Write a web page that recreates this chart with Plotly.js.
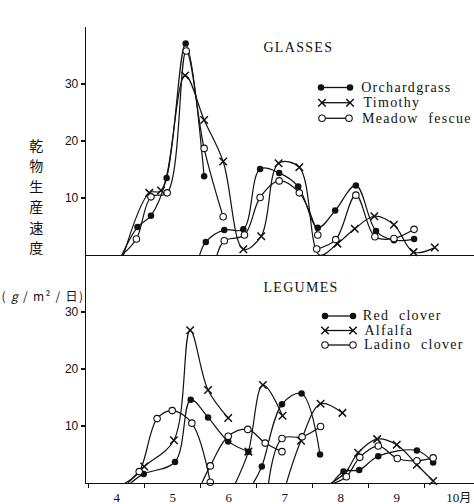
<!DOCTYPE html>
<html>
<head>
<meta charset="utf-8">
<script src="https://cdn.plot.ly/plotly-3.0.1.min.js"></script>
<style>
  html, body { margin: 0; padding: 0; background: #fff; }
  #chart .annotation-text { letter-spacing: 1.3px; }
</style>
</head>
<body>
<div id="chart" style="width:474px;height:504px"></div>
<script>
// Month axis: 4 = April ... 10 = October
const monthTicks = [4, 5, 6, 7, 8, 9, 10];
const monthLabels = ['4', '5', '6', '7', '8', '9', '10'];
const rateTicks = [10, 20, 30];

// Dry matter production rate (g/m²/day). Each regrowth cycle starts from 0; null separates cycles.
// --- GLASSES ---
const orchardgrassX = [4.09, 4.37, 4.61, 4.89, 5.23, 5.56, null, 5.48, 5.59, 5.92, 6.26, 6.56, 6.90, 7.24, 7.59, 7.90, 8.27, 8.63, 8.95, 9.31];
const orchardgrassY = [0, 4.9, 6.9, 13.5, 37.1, 13.8, null, 0, 2.3, 4.4, 4.5, 15.1, 14.4, 12.0, 4.8, 7.8, 12.2, 4.2, 2.6, 2.8];

const timothyX = [4.12, 4.58, 4.79, 5.22, 5.56, 5.90, 6.26, 6.58, 6.89, 7.26, 7.62, 7.94, 8.25, 8.60, 8.95, 9.30, 9.68];
const timothyY = [0, 10.9, 11.3, 31.5, 23.7, 16.4, 1.0, 3.3, 16.1, 15.4, 0, 2.0, 4.6, 6.8, 5.3, 0.5, 1.3];

const meadowFescueX = [4.09, 4.35, 4.61, 4.90, 5.24, 5.56, 5.90, null, 5.79, 5.92, 6.28, 6.56, 6.90, 7.26, 7.59, null, 7.57, 7.91, 8.27, 8.61, 8.95, 9.31];
const meadowFescueY = [0, 2.8, 10.2, 10.9, 35.8, 18.7, 6.7, null, 0, 2.5, 3.5, 10.1, 13.0, 10.9, 3.5, null, 1.05, 2.7, 10.5, 3.2, 2.9, 4.5];

// --- LEGUMES ---
const redCloverX = [4.25, 4.48, 5.04, 5.32, 5.63, 5.99, 6.35, null, 6.44, 6.59, 6.95, 7.30, 7.63, null, 7.85, 8.05, 8.33, 8.67, 9.36, 9.65];
const redCloverY = [0, 1.6, 3.7, 14.6, 11.5, 7.3, 5.5, null, 0, 2.9, 13.8, 15.7, 5.0, null, 0, 2.0, 2.3, 4.7, 5.7, 3.6];

const alfalfaX = [4.2, 4.49, 5.02, 5.31, 5.63, 5.99, null, 6.12, 6.35, 6.61, 6.96, null, 7.03, 7.29, 7.64, 8.03, null, 7.83, 8.08, 8.31, 8.65, 9.00, 9.36, 9.65];
const alfalfaY = [0, 2.9, 7.5, 26.8, 16.3, 11.4, null, 0, 5.5, 17.2, 11.8, null, 0, 7.4, 13.9, 12.3, null, 0, 1.8, 5.3, 7.7, 6.7, 3.2, 0.35];

const ladinoCloverX = [4.15, 4.40, 4.72, 4.99, 5.34, 5.67, null, 5.52, 5.67, 5.99, 6.34, 6.65, 6.95, null, 6.71, 6.95, 7.31, 7.64, null, 7.88, 8.10, 8.34, 8.67, 9.01, 9.36, 9.65];
const ladinoCloverY = [0, 2.0, 11.3, 12.7, 10.5, 0.12, null, 0, 3.0, 8.2, 9.4, 7.0, 5.5, null, 0, 7.8, 8.1, 9.9, null, 0, 1.1, 4.5, 6.5, 4.3, 3.9, 4.4];

// ---------------------------------------------------------------------------
const INK = '#111';
const TRACKING = 1.3; // letter-spacing (px) applied to annotation text via CSS
const STYLES = {
  dot:  { symbol: 'circle', size: 6.5, color: INK, line: { color: INK, width: 0 } },
  open: { symbol: 'circle', size: 6.5, color: '#fff', line: { color: INK, width: 1.1 } },
  cross:{ symbol: 'x-thin', size: 7.5, color: INK, line: { color: INK, width: 1.5 } }
};

// Regrowth starts (value exactly 0) are drawn without a marker.
function series(x, y, style, xa, ya) {
  const st = STYLES[style];
  return {
    x: x, y: y, xaxis: xa, yaxis: ya,
    type: 'scatter', mode: 'lines+markers',
    connectgaps: false, cliponaxis: false, hoverinfo: 'skip',
    line: { color: INK, width: 1.2, shape: 'spline', smoothing: 1 },
    marker: {
      symbol: st.symbol, size: st.size, color: st.color, line: st.line,
      opacity: y.map(v => (v === 0 ? 0 : 1))
    }
  };
}

// Plot area in pixels (used for annotation / key placement)
const L = 86, T = 27, W = 388, H = 456;
const fx = px => (px - L) / W;
const fy = py => 1 - (py - T) / H;

function keySample(x0, x1, yRow, style) {
  const st = STYLES[style];
  return {
    x: [fx(x0), fx(x1)], y: [fy(yRow), fy(yRow)], xaxis: 'x3', yaxis: 'y3',
    type: 'scatter', mode: 'lines+markers', hoverinfo: 'skip', cliponaxis: false,
    line: { color: INK, width: 1.3 },
    marker: { symbol: st.symbol, size: st.size, color: st.color, line: st.line }
  };
}

const traces = [
  series(orchardgrassX, orchardgrassY, 'dot', 'x2', 'y2'),
  series(timothyX, timothyY, 'cross', 'x2', 'y2'),
  series(meadowFescueX, meadowFescueY, 'open', 'x2', 'y2'),
  series(redCloverX, redCloverY, 'dot', 'x', 'y'),
  series(alfalfaX, alfalfaY, 'cross', 'x', 'y'),
  series(ladinoCloverX, ladinoCloverY, 'open', 'x', 'y'),
  keySample(321, 350, 87.5, 'dot'),
  keySample(322, 350, 102.7, 'cross'),
  keySample(322, 349, 118.3, 'open'),
  keySample(325, 353, 316, 'dot'),
  keySample(325, 353, 330.5, 'cross'),
  keySample(325, 353, 345, 'open')
];

const serif = 'Liberation Serif, Times New Roman, serif';
const cjk = 'Noto Sans CJK JP, sans-serif';

// Left-anchored labels: the CSS tracking widens the text around its centre,
// so nudge it right by half of the added width to keep the left edge in place.
function label(text, px, py, size, family, anchor) {
  const plain = text.replace(/<[^>]+>/g, '');
  const nudge = (anchor || 'left') === 'left' ? TRACKING * plain.length / 2 : 0;
  return {
    text: text, xref: 'paper', yref: 'paper', x: fx(px + nudge), y: fy(py),
    xanchor: anchor || 'left', yanchor: 'middle', showarrow: false,
    font: { family: family || serif, size: size, color: INK }
  };
}

const annotations = [
  label('GLASSES', 261, 47, 14),
  label('Orchardgrass', 359, 87.5, 14),
  label('Timothy', 361, 102.7, 14),
  label('Meadow  fescue', 360, 118.3, 14),
  label('LEGUMES', 261, 287.5, 14),
  label('Red  clover', 361, 315.5, 14),
  label('Alfalfa', 362, 330, 14),
  label('Ladino  clover', 362, 344.5, 14),
  label('月', 466, 496.5, 12, cjk, 'center'),
  label('( <i>g</i> / m² / 日)', 43, 295, 12, cjk, 'center')
];
// vertical axis title
['乾', '物', '生', '産', '速', '度'].forEach((ch, i) => {
  annotations.push(label(ch, 37, 145 + i * 20.4, 14, cjk, 'center'));
});

const xBase = {
  range: [3.45, 10.38], showgrid: false, zeroline: false,
  showline: true, linecolor: INK, linewidth: 1.3, fixedrange: true
};
const yBase = {
  range: [0, 40], showgrid: false, zeroline: false,
  showline: true, linecolor: INK, linewidth: 1.3, fixedrange: true,
  ticks: 'outside', ticklen: 4, tickwidth: 1.2, tickcolor: INK,
  tickmode: 'array', tickvals: rateTicks, ticktext: rateTicks.map(String),
  tickfont: { family: 'Liberation Sans, Arial, sans-serif', size: 12, color: INK }
};

const layout = {
  width: 474, height: 504,
  margin: { l: L, r: 0, t: T, b: 504 - T - H, pad: 0 },
  paper_bgcolor: '#fff', plot_bgcolor: 'rgba(0,0,0,0)',
  showlegend: false,
  xaxis: Object.assign({}, xBase, {
    domain: [0, 1], anchor: 'y',
    ticks: '', tickmode: 'array', tickvals: monthTicks, ticktext: monthLabels,
    tickfont: { family: serif, size: 13, color: INK }, ticklabelstandoff: 2,
    minor: { ticks: 'outside', tick0: 4.5, dtick: 1, ticklen: 4, tickwidth: 1.1, tickcolor: INK }
  }),
  yaxis: Object.assign({}, yBase, { domain: [0, 0.5], anchor: 'x' }),
  xaxis2: Object.assign({}, xBase, { domain: [0, 1], anchor: 'y2', ticks: '', showticklabels: false }),
  yaxis2: Object.assign({}, yBase, { domain: [0.5, 1], anchor: 'x2' }),
  xaxis3: { domain: [0, 1], range: [0, 1], anchor: 'y3', visible: false, fixedrange: true },
  yaxis3: { domain: [0, 1], range: [0, 1], anchor: 'x3', visible: false, fixedrange: true },
  annotations: annotations
};

Plotly.newPlot('chart', traces, layout, { staticPlot: true, displayModeBar: false });
</script>
</body>
</html>
